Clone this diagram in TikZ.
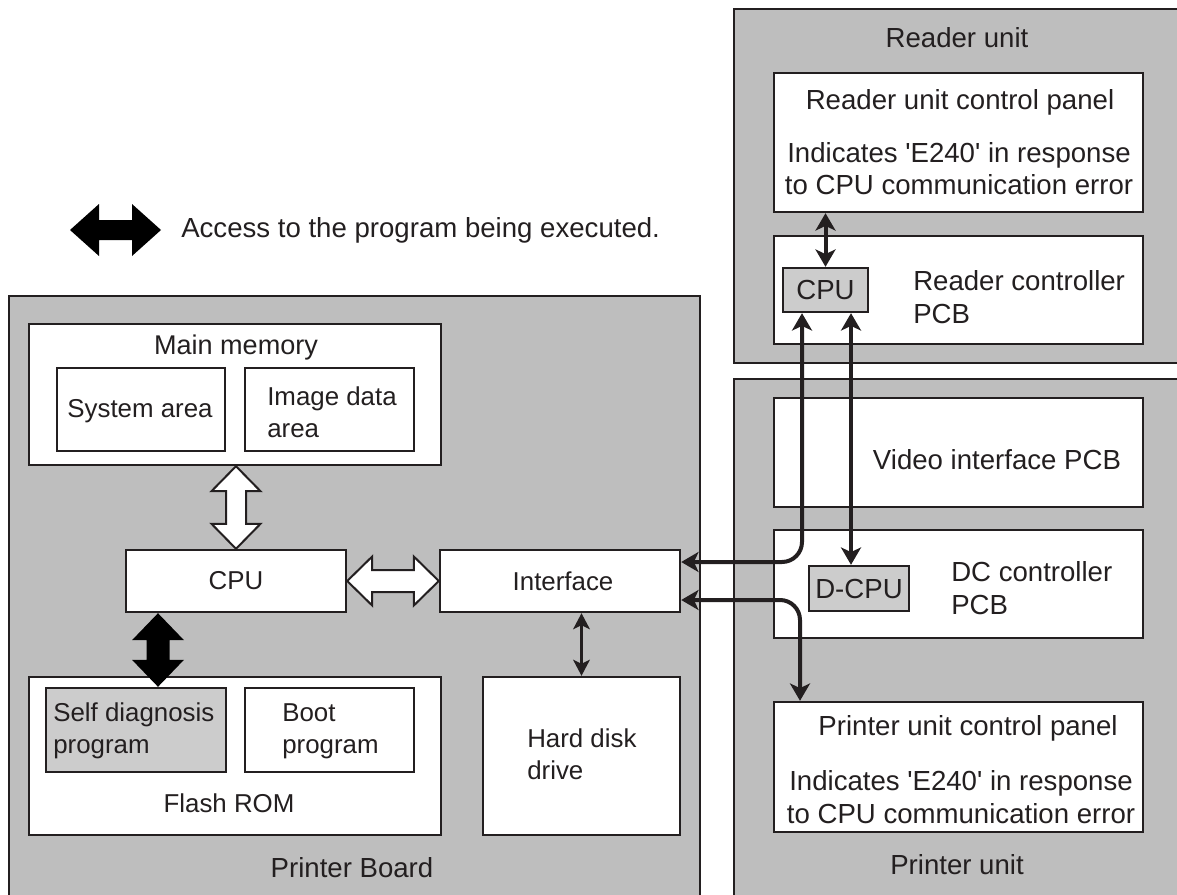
\documentclass[tikz,border=0pt]{standalone}
\usepackage{fontspec}
\setmainfont{Liberation Sans}
\usetikzlibrary{fit,calc,arrows.meta}
\definecolor{boardgray}{RGB}{190,190,190}
\definecolor{chipgray}{RGB}{204,204,204}
\definecolor{ink}{RGB}{35,31,32}

% vertical double block arrow: style, top tip, bottom tip, head length, head half width, shaft half width
\newcommand{\dblarrowV}[6]{%
  \path[#1] (#2) -- ++(#5,#4) -- ++(-#5+#6,0) -- ($(#3)+(#6,-#4)$) -- ++(#5-#6,0) -- (#3)
    -- ++(-#5,-#4) -- ++(#5-#6,0) -- ($(#2)+(-#6,#4)$) -- ++(-#5+#6,0) -- cycle;}
% horizontal double block arrow: style, left tip, right tip, head length, head half width, shaft half width
\newcommand{\dblarrowH}[6]{%
  \path[#1] (#2) -- ++(#4,-#5) -- ++(0,#5-#6) -- ($(#3)+(-#4,-#6)$) -- ++(0,-#5+#6) -- (#3)
    -- ++(-#4,#5) -- ++(0,-#5+#6) -- ($(#2)+(#4,#6)$) -- ++(0,#5-#6) -- cycle;}
\newcommand{\errmsg}{Indicates \textquotesingle E240\textquotesingle{} in response\\to CPU communication error}

\begin{document}
\begin{tikzpicture}[x=0.75pt,y=-0.75pt,
  every node/.style={font=\fontsize{20.7}{24.2}\selectfont, text=ink, inner sep=0pt},
  inner text/.style={font=\fontsize{19.4}{24.2}\selectfont},
  unit/.style={draw=ink, line width=1.8pt, fill=boardgray, inner sep=0pt},
  block/.style={draw=ink, line width=1.8pt, fill=white, inner sep=0pt},
  chip/.style={draw=ink, line width=1.8pt, fill=chipgray, inner sep=0pt},
  conn/.style={draw=ink, line width=3pt, rounded corners=15pt, {Stealth[length=13pt,width=15pt,inset=3.5pt]}-{Stealth[length=13pt,width=15pt,inset=3.5pt]}},
  thinconn/.style={draw=ink, line width=2pt, {Stealth[length=12pt,width=12.5pt,inset=3pt]}-{Stealth[length=12pt,width=12.5pt,inset=3pt]}},
  hollow/.style={draw=ink, line width=1.5pt, fill=white, line join=miter},
  solidarrow/.style={fill=black}
]
\useasboundingbox (0,0) rectangle (1177,895);
\clip (0,0) rectangle (1177,895);

% outer units
\node[unit, fit={(9,296) (700,920)}] (pb) {};
\node[unit, fit={(734,9) (1190,363)}] (ru) {};
\node[unit, fit={(734,379) (1190,920)}] (pu) {};

\node at (957,38) (rutitle) {Reader unit};
\node at (352,868) (pbtitle) {Printer Board};
\node at (957,865) (putitle) {Printer unit};

% reader unit contents
\node[block, fit={(774,73) (1143,212)}] (rpanel) {};
\node at (960,102) (rpanelt) {Reader unit control panel};
\node[align=center] at (959,169) (rpanelm) {\errmsg};
\node[block, fit={(774,236) (1143,344)}] (rctl) {};
\node[chip, fit={(783,268) (868,312)}] (cpuR) {};
\node at (cpuR.center) (cpuRt) {CPU};
\node[align=left, anchor=west] at (913,297) (rctlt) {Reader controller\\PCB};

% printer unit contents
\node[block, fit={(774,398) (1143,507)}] (vif) {};
\node at (997,460) (vift) {Video interface PCB};
\node[block, fit={(774,530) (1143,638)}] (dcc) {};
\node[chip, fit={(809,566) (909,611)}] (dcpu) {};
\node at (dcpu.center) (dcput) {D-CPU};
\node[align=left, anchor=west] at (951,588) (dcct) {DC controller\\PCB};
\node[block, fit={(774,702) (1143,832)}] (ppanel) {};
\node at (968,728) (ppanelt) {Printer unit control panel};
\node[align=center] at (961,797) (ppanelm) {\errmsg};

% printer board contents
\node[block, fit={(29,324) (441,465)}] (mm) {};
\node[font=\fontsize{20.3}{24.2}\selectfont] at (236,347) (mmt) {Main memory};
\node[block, fit={(57,368) (225,451)}] (sys) {};
\node[inner text] at (140,411) (syst) {System area};
\node[block, fit={(245,368) (414,451)}] (img) {};
\node[inner text, align=left, anchor=west] at (267,412) (imgt) {Image data\\area};
\node[block, fit={(126,550) (346,612)}] (cpu) {};
\node[inner text] at (cpu.center) (cput) {CPU};
\node[block, fit={(440,550) (680,612)}] (ifc) {};
\node[inner text] at (563,581) (ifct) {Interface};
\node[block, fit={(29,677) (441,835)}] (flash) {};
\node[chip, fit={(46,688) (226,772)}] (sd) {};
\node[inner text, align=left, anchor=west] at (53,731) (sdt) {Self diagnosis\\program};
\node[block, fit={(245,688) (414,772)}] (boot) {};
\node[inner text, align=left, anchor=west] at (282,731) (boott) {Boot\\program};
\node[inner text] at (229,803) (flasht) {Flash ROM};
\node[block, fit={(483,677) (680,835)}] (hdd) {};
\node[inner text, align=left, anchor=west] at (527,754) (hddt) {Hard disk\\drive};

% legend
\coordinate (legL) at (70,230);
\coordinate (legR) at (161,230);
\dblarrowH{solidarrow}{legL}{legR}{29}{26}{10}
\node[anchor=west] at (181,230) (legt) {Access to the program being executed.};

% block arrows on the printer board
\coordinate (mmA) at (cpu.north |- mm.south);
\dblarrowV{hollow}{mmA}{cpu.north}{25}{24.5}{10}
\dblarrowH{hollow}{cpu.east}{ifc.west}{25}{24.5}{11}
\coordinate (bk) at (158,0);
\coordinate (bkT) at (cpu.south -| bk);
\coordinate (bkB) at (sd.north -| bk);
\dblarrowV{solidarrow}{bkT}{bkB}{27}{26}{11.5}

% signal lines
\coordinate (colA) at (802,0);
\coordinate (colB) at (851,0);
\coordinate (colC) at (800,0);
\coordinate (rowA) at (0,562);
\coordinate (rowB) at (0,600);
\draw[conn] (rpanel.south -| cpuR.north) -- (cpuR.north);
\draw[conn] (cpuR.south -| colA) -- (colA |- rowA) -- (ifc.east |- rowA);
\draw[conn] (cpuR.south -| colB) -- (dcpu.north -| colB);
\draw[conn] (ifc.east |- rowB) -- (colC |- rowB) -- (ppanel.north -| colC);
\draw[thinconn] (ifc.south -| hdd.north) -- (hdd.north);
\end{tikzpicture}
\end{document}
